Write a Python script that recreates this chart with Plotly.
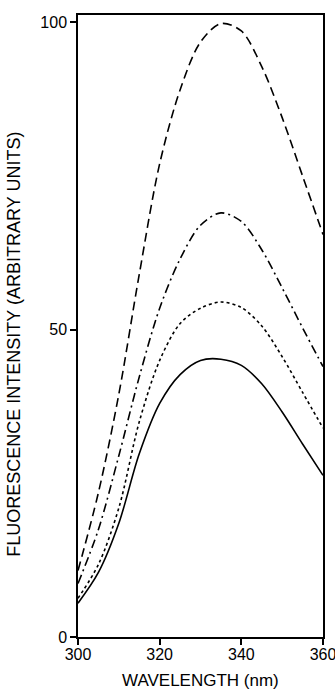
import plotly.graph_objects as go

wavelength = [300, 305, 310, 315, 320, 325, 330, 335, 340, 345, 350, 355, 360]
curve_long_dash = [10.8, 23.5, 39.5, 59.0, 77.0, 89.0, 96.8, 99.8, 98.6, 92.8, 84.5, 75.0, 65.5]
curve_dash_dot = [8.7, 17.5, 29.5, 42.3, 53.5, 61.5, 67.0, 69.0, 67.6, 63.0, 56.8, 50.3, 44.0]
curve_short_dash = [6.3, 11.8, 21.0, 35.0, 45.0, 51.0, 53.5, 54.5, 53.6, 50.6, 45.6, 39.8, 34.0]
curve_solid = [5.5, 10.5, 18.5, 29.8, 38.0, 42.7, 45.0, 45.2, 44.2, 41.2, 36.6, 31.4, 26.3]

x_ticks = [300, 320, 340, 360]
y_ticks = [0, 50, 100]
x_title = "WAVELENGTH (nm)"
y_title = "FLUORESCENCE INTENSITY (ARBITRARY UNITS)"

styles = [
    (curve_long_dash, "9px,5px"),
    (curve_dash_dot, "9px,4px,2px,4px"),
    (curve_short_dash, "3px,3px"),
    (curve_solid, "solid"),
]

fig = go.Figure()
for ys, dash in styles:
    fig.add_trace(go.Scatter(
        x=wavelength, y=ys, mode="lines",
        line=dict(color="black", width=1.6, dash=dash, shape="spline", smoothing=0.9),
        showlegend=False, hoverinfo="skip",
    ))

family = "Liberation Sans, Arial, sans-serif"
tick_font = dict(family=family, size=16, color="black")

fig.update_layout(
    width=335, height=690,
    margin=dict(l=78, r=12, t=15, b=53),
    paper_bgcolor="white", plot_bgcolor="white",
    font=tick_font,
    xaxis=dict(
        range=[300, 360], tickvals=x_ticks, ticktext=[str(v) for v in x_ticks],
        ticks="outside", ticklen=6, tickwidth=1.5, tickcolor="black",
        showline=True, linecolor="black", linewidth=1.5, mirror=True,
        showgrid=False, zeroline=False, automargin=False,
        ticklabeloverflow="allow", ticklabelstandoff=-4,
        tickfont=tick_font,
    ),
    yaxis=dict(
        range=[0, 101.2], tickvals=y_ticks, ticktext=[str(v) for v in y_ticks],
        ticks="outside", ticklen=6, tickwidth=1.5, tickcolor="black",
        showline=True, linecolor="black", linewidth=1.5, mirror=True,
        showgrid=False, zeroline=False, automargin=False,
        ticklabeloverflow="allow",
        tickfont=tick_font,
    ),
    annotations=[
        dict(text=x_title, xref="paper", yref="paper", x=0.5, y=0,
             yshift=-43, xanchor="center", yanchor="middle", showarrow=False,
             font=dict(family=family, size=17, color="black")),
        dict(text=y_title, xref="paper", yref="paper", x=0, y=0.47,
             xshift=-64, xanchor="center", yanchor="middle", textangle=-90,
             showarrow=False,
             font=dict(family=family, size=18, color="black")),
    ],
)

fig.write_html(
    "out.html",
    config={"displayModeBar": False},
    post_script="document.body.style.margin='0';document.body.style.overflow='hidden';",
)
